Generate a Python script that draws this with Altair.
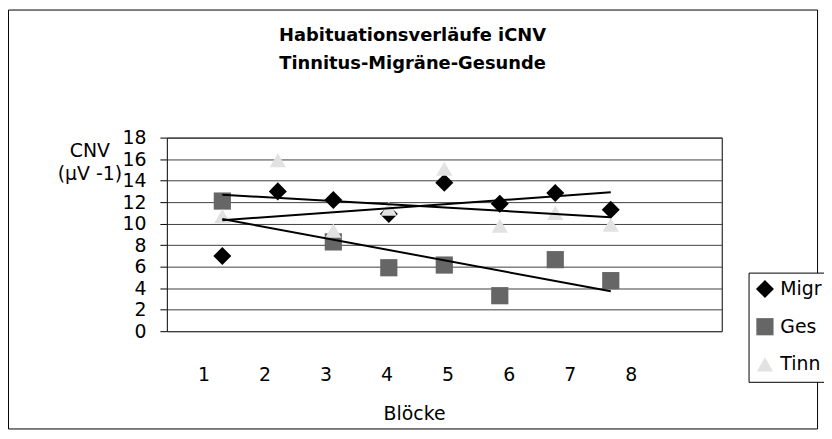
import json
import altair as alt
import pandas as pd

# ---- data ----
blocks = [1, 2, 3, 4, 5, 6, 7, 8]
block_labels = ["1", "2", "3", "4", "5", "6", "7", "8"]
series_names = ["Migr", "Ges", "Tinn"]
migraene = [7.0, 13.0, 12.2, 10.9, 13.8, 11.85, 12.85, 11.3]
gesunde = [12.1, None, 8.3, 5.9, 6.15, 3.3, 6.65, 4.7]
tinnitus = [10.7, 15.9, 9.35, 11.4, 15.1, 9.8, 11.0, 9.9]
y_ticks = [0, 2, 4, 6, 8, 10, 12, 14, 16, 18]

marker_shapes = ["diamond", "square", "triangle-up"]
marker_colors = ["#000000", "#666666", "#e2e2e2"]
marker_sizes = [330, 270, 360]

rows = []
for name, vals in zip(series_names, [migraene, gesunde, tinnitus]):
    for b, v in zip(blocks, vals):
        if v is not None:
            rows.append({"Block": b, "CNV": v, "Gruppe": name})
df = pd.DataFrame(rows)

FONT = "DejaVu Sans"
FS = 19

# category-style label positions along the value axis (layout only)
label_pos = [0.66 + 1.1 * i for i in range(len(block_labels))]
label_expr = f"{json.dumps(block_labels)}[round((datum.value - 0.66) / 1.1)]"

x_scale = alt.Scale(domain=[0, 10], nice=False, zero=False)
y_scale = alt.Scale(domain=[0, 18], nice=False)

x_axis = alt.Axis(
    values=label_pos, labelExpr=label_expr, ticks=False, tickSize=0,
    domain=False, grid=False, labelPadding=35, labelBaseline="top",
    labelOverlap=False, labelFont=FONT, labelFontSize=FS, labelColor="#000",
    title="Blöcke", titleFont=FONT, titleFontSize=FS, titleFontWeight="normal",
    titleColor="#000", titleX=249, titleY=89, titleAlign="center",
    titleBaseline="alphabetic",
)
y_axis = alt.Axis(
    values=y_ticks, tickCount=10, grid=True, gridColor="#404040", gridWidth=1,
    domain=False, ticks=True, tickSize=7, tickColor="#000",
    labelOverlap=False, labelPadding=14, labelFont=FONT, labelFontSize=FS,
    labelColor="#000",
    title=["CNV", "(µV -1)"], titleAngle=0, titleX=-78, titleY=4,
    titleAlign="center", titleBaseline="top", titleLineHeight=23,
    titleFont=FONT, titleFontSize=FS, titleFontWeight="normal", titleColor="#000",
)

legend = alt.Legend(
    orient="none", legendX=586, legendY=136, title=None,
    strokeColor="#000", fillColor="#fff", padding=7,
    symbolSize=300, symbolStrokeWidth=0, labelFont=FONT, labelFontSize=FS,
    labelColor="#000", rowPadding=18, labelOffset=6, labelLimit=300,
)

base = alt.Chart(df)

points = base.mark_point(filled=True, opacity=1).encode(
    x=alt.X("Block:Q", scale=x_scale, axis=x_axis),
    y=alt.Y("CNV:Q", scale=y_scale, axis=y_axis),
    color=alt.Color("Gruppe:N", scale=alt.Scale(domain=series_names, range=marker_colors), legend=legend),
    shape=alt.Shape("Gruppe:N", scale=alt.Scale(domain=series_names, range=marker_shapes), legend=legend),
    size=alt.Size("Gruppe:N", scale=alt.Scale(domain=series_names, range=marker_sizes), legend=None),
    order=alt.Order("order:Q"),
).transform_calculate(order=f"indexof({json.dumps(series_names)}, datum.Gruppe)")

trends = base.transform_regression(
    "Block", "CNV", groupby=["Gruppe"], method="linear"
).mark_line(color="#000", strokeWidth=2).encode(
    x=alt.X("Block:Q", scale=x_scale, axis=x_axis),
    y=alt.Y("CNV:Q", scale=y_scale, axis=y_axis),
    detail="Gruppe:N",
)

frame = alt.Chart(pd.DataFrame({"k": [0]})).mark_rect(
    filled=False, stroke="#000", strokeWidth=1, clip=False
).encode(
    x=alt.value(-159.5), x2=alt.value(655.5), y=alt.value(-128.5), y2=alt.value(293.5)
)

chart = alt.layer(points, trends, frame).properties(
    width=559, height=195,
    autosize=alt.AutoSizeParams(type="none"),
    padding={"left": 160, "top": 129, "right": 103, "bottom": 100},
    title=alt.TitleParams(
        ["Habituationsverläufe iCNV", "Tinnitus-Migräne-Gesunde"],
        font=FONT, fontSize=18, fontWeight="bold", color="#000",
        anchor="middle", dx=-32, offset=-64, baseline="top", lineHeight=28,
    ),
).configure_view(stroke="#000", strokeWidth=1)

chart.save("out.html", embed_options={"renderer": "svg", "actions": False})
